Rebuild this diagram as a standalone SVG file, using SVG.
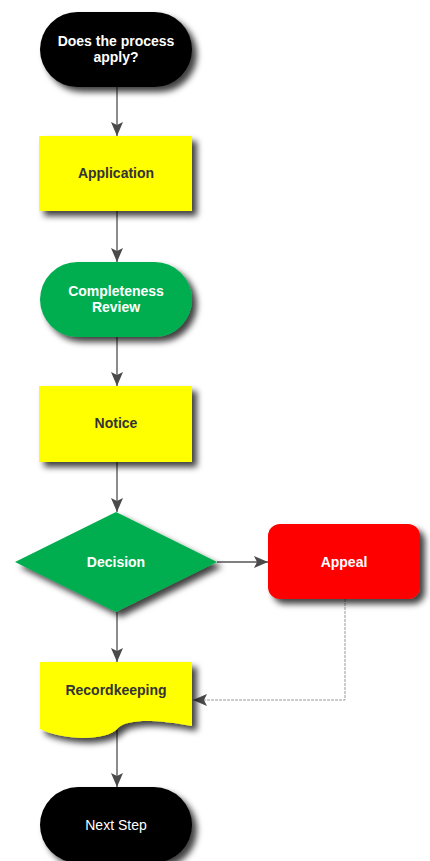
<svg xmlns="http://www.w3.org/2000/svg" width="430" height="861" viewBox="0 0 430 861">
<defs>
<filter id="sh" x="-20%" y="-20%" width="150%" height="160%">
<feDropShadow dx="5" dy="5" stdDeviation="3" flood-color="#000" flood-opacity="0.75"/>
</filter>
<marker id="ah" viewBox="0 0 14 12" refX="14" refY="6" markerWidth="14" markerHeight="12" markerUnits="userSpaceOnUse" orient="auto">
<path d="M0,0 L14,6 L0,12 L3,6 Z" fill="#4a4a4a"/>
</marker>
<style>
.t{font-family:"Liberation Sans",Arial,sans-serif;font-size:14px;font-weight:bold;text-anchor:middle}
.w{fill:#fff}
.d{fill:#333}
.c{stroke:#808080;stroke-width:1.8;fill:none;marker-end:url(#ah)}
</style>
</defs>
<rect width="430" height="861" fill="#fff"/>
<g id="connectors">
<line class="c" x1="117" y1="87" x2="117" y2="136"/>
<line class="c" x1="117" y1="211" x2="117" y2="262"/>
<line class="c" x1="117" y1="337" x2="117" y2="386"/>
<line class="c" x1="117" y1="462" x2="117" y2="512"/>
<line class="c" x1="217" y1="562" x2="268" y2="562"/>
<line class="c" x1="117" y1="612" x2="117" y2="662"/>
<polyline class="c" style="stroke:#999;stroke-width:1;stroke-dasharray:3,1" points="345,599 345,700 193,700"/>
<line class="c" x1="117" y1="730" x2="117" y2="787"/>
</g>
<g id="start">
<rect x="40" y="12" width="152" height="75" rx="37.5" fill="#000" filter="url(#sh)"/>
<text class="t w" x="116" y="46">Does the process</text>
<text class="t w" x="116" y="62">apply?</text>
</g>
<g id="application">
<rect x="39" y="136" width="153" height="75" fill="#ffff00" filter="url(#sh)"/>
<text class="t d" x="116" y="178">Application</text>
</g>
<g id="completeness">
<rect x="40" y="262" width="152" height="75" rx="37.5" fill="#00ae4f" filter="url(#sh)"/>
<text class="t w" x="116" y="296">Completeness</text>
<text class="t w" x="116" y="312">Review</text>
</g>
<g id="notice">
<rect x="39" y="386" width="153" height="76" fill="#ffff00" filter="url(#sh)"/>
<text class="t d" x="116" y="428">Notice</text>
</g>
<g id="decision">
<polygon points="116,512 217,562 116,612 15,562" fill="#00ae4f" filter="url(#sh)"/>
<text class="t w" x="116" y="567">Decision</text>
</g>
<g id="appeal">
<rect x="268" y="524" width="152" height="75" rx="12" fill="#ff0000" filter="url(#sh)"/>
<text class="t w" x="344" y="567">Appeal</text>
</g>
<g id="recordkeeping">
<path d="M40,662 H192 V726 C160,720 128,718 118,728 C106,742 62,740 40,729 Z" fill="#ffff00" filter="url(#sh)"/>
<text class="t d" x="116" y="695">Recordkeeping</text>
</g>
<g id="next">
<rect x="40" y="787" width="152" height="76" rx="38" fill="#000" filter="url(#sh)"/>
<text class="t w" x="116" y="830" style="font-weight:normal">Next Step</text>
</g>
</svg>
